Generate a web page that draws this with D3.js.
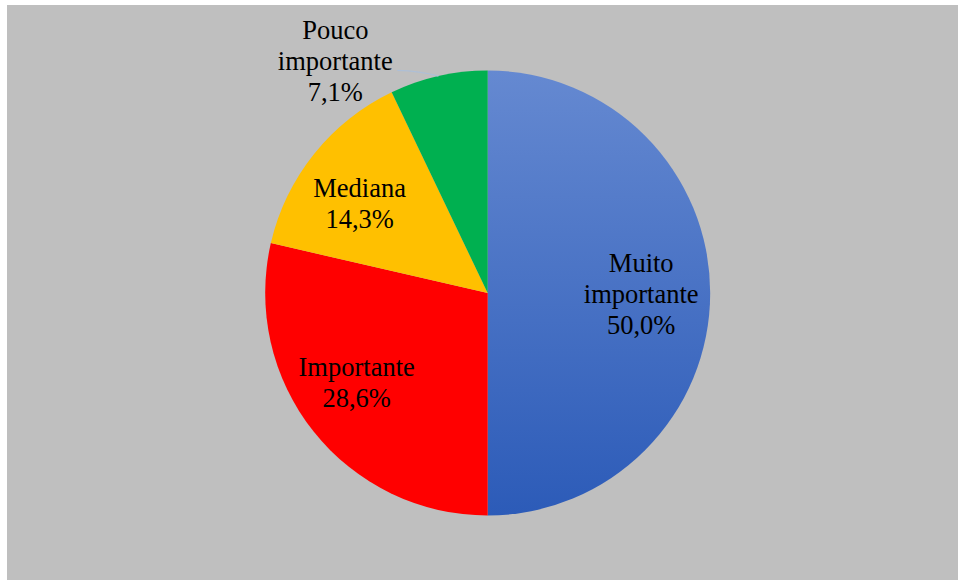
<!DOCTYPE html>
<html><head><meta charset="utf-8">
<script src="https://cdn.jsdelivr.net/npm/d3@7"></script>
<style>html,body{margin:0;padding:0;background:#fff;}svg{display:block;}</style>
</head><body>
<svg id="chart" width="958" height="581"></svg>
<script>
const categories = ["Muito importante", "Importante", "Mediana", "Pouco importante"];
const values = [50.0, 28.6, 14.3, 7.1];
const labelLines = [["Muito", "importante", "50,0%"], ["Importante", "28,6%"], ["Mediana", "14,3%"], ["Pouco", "importante", "7,1%"]];
const colors = ["url(#blueGrad)", "#ff0000", "#ffc000", "#00b050"];

const svg = d3.select("#chart");
const W = 958, H = 581;
svg.append("rect").attr("x", 7).attr("y", 5).attr("width", W - 7).attr("height", 575).attr("fill", "#bfbfbf");

const cx = 487.7, cy = 293, r = 222.5;
const defs = svg.append("defs");
const g1 = defs.append("linearGradient").attr("id", "blueGrad")
  .attr("gradientUnits", "userSpaceOnUse").attr("x1", 0).attr("y1", -r).attr("x2", 0).attr("y2", r);
g1.append("stop").attr("offset", "0%").attr("stop-color", "#6589d1");
g1.append("stop").attr("offset", "100%").attr("stop-color", "#2c5bb8");

const pie = d3.pie().sort(null).value(d => d)(values);
const arc = d3.arc().innerRadius(0).outerRadius(r);
const g = svg.append("g").attr("transform", `translate(${cx},${cy})`);
g.selectAll("path.slice").data(pie).join("path").attr("class", "slice")
  .attr("d", arc).attr("fill", (d, i) => colors[i]);

const fs = 26.5, lh = 31;
function polar(a, rad) { return [rad * Math.sin(a), -rad * Math.cos(a)]; }

pie.forEach((d, i) => {
  const mid = (d.startAngle + d.endAngle) / 2;
  const shift = [0, 0.08, -0.06, -0.357][i];
  const dist = r * [0.69, 0.71, 0.705, 1.25][i];
  const pos = polar(mid + shift, dist);
  const lines = labelLines[i];
  const t = g.append("text")
    .style("font-family", '"Liberation Serif", "Times New Roman", Times, serif')
    .style("font-size", fs + "px")
    .attr("fill", "#000").attr("text-anchor", "middle");
  lines.forEach((ln, k) => {
    t.append("tspan").attr("x", pos[0])
      .attr("y", pos[1] + (k - (lines.length - 1) / 2) * lh + 10).text(ln);
  });
  if (i === 3) {
    const end = polar(mid, r);
    const start = [pos[0] + 62, pos[1] + 10];
    const ctrl = [start[0] + (end[0] - start[0]) * 0.55, start[1] + 0.5];
    g.append("path").attr("d", `M${start[0]},${start[1]} Q${ctrl[0]},${ctrl[1]} ${end[0]},${end[1]}`)
      .attr("fill", "none").attr("stroke", "#aebfd6").attr("stroke-width", 1.3);
  }
});
</script>
</body></html>
